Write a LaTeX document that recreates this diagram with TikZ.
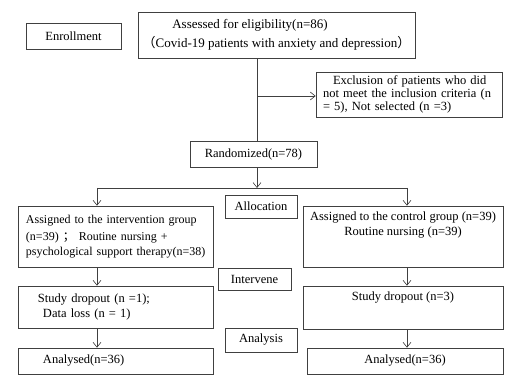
\documentclass[tikz,border=0pt]{standalone}
\usepackage{fontspec}
\setmainfont{Liberation Serif}
\newfontfamily\cjk{Noto Sans CJK SC}
\usetikzlibrary{arrows.meta,positioning}

\begin{document}
\begin{tikzpicture}[
    x=1pt,y=-1pt,
    box/.style={rectangle,draw=black!75,line width=0.6pt,inner sep=0pt,align=center,
                font=\fontsize{12.5}{15}\selectfont},
    arrow/.style={-{Straight Barb[length=5pt,width=8pt]},line width=0.6pt,draw=black!75},
    link/.style={line width=0.6pt,draw=black!75}
]
\useasboundingbox (0,0) rectangle (507,385);

%--- Nodes: Enrollment ---%
\node[box,minimum width=95pt,minimum height=26pt] (enrol) at (73.5,36) {Enrollment};
\node[box,minimum width=277pt,minimum height=46pt,font=\fontsize{13}{15}\selectfont] (assess) at (276.5,35)
    {\hspace*{-53pt}Assessed for eligibility(n=86)\\[4pt]
     {\cjk （}Covid-19 patients with anxiety and depression{\cjk ）}};
\node[box,minimum width=186pt,minimum height=45pt,text width=172pt,align=left,
      font=\fontsize{12.5}{13}\selectfont] (excl) at (409,94.5)
    {\makebox[172pt][s]{\hspace*{10pt}Exclusion of patients who did}\\
     \makebox[172pt][s]{not meet the inclusion criteria (n}\\
     = 5), Not selected (n =3)};
\node[box,minimum width=127pt,minimum height=26pt] (rand) at (253.5,154) {Randomized(n=78)};

%--- Nodes: Allocation ---%
\node[box,minimum width=72pt,minimum height=23pt] (alloc) at (261,206.5) {Allocation};
\node[box,minimum width=195pt,minimum height=61pt,text width=179pt,align=left,
      font=\fontsize{12}{15}\selectfont] (interv) at (115.5,236.5)
    {\makebox[179pt][s]{Assigned to the intervention group}\\[2.5pt]
     \makebox[179pt][s]{(n=39) {\cjk ；} Routine nursing +}\\
     \makebox[179pt][s]{psychological support therapy(n=38)}};
\node[box,minimum width=200pt,minimum height=61pt] (control) at (403,236.5)
    {Assigned to the control group (n=39)\\Routine nursing (n=39)\\[7pt]\strut};

%--- Nodes: Intervene ---%
\node[box,minimum width=73pt,minimum height=22pt] (inter) at (254.5,279) {Intervene};
\node[box,minimum width=195pt,minimum height=42pt,text width=179pt,align=left] (dropL) at (115.5,307)
    {\hspace*{12pt}Study dropout (n =1);\\\hspace*{17pt}Data loss (n = 1)};
\node[box,minimum width=200pt,minimum height=43pt] (dropR) at (403,307.5)
    {Study dropout (n=3)\\[4pt]\strut};

%--- Nodes: Analysis ---%
\node[box,minimum width=72pt,minimum height=24pt] (analysis) at (261,340) {Analysis};
\node[box,minimum width=195pt,minimum height=26pt,text width=179pt,align=left] (doneL) at (115.5,361)
    {\hspace*{17pt}Analysed(n=36)};
\node[box,minimum width=196pt,minimum height=26pt] (doneR) at (405,361) {Analysed(n=36)};

%--- Connectors ---%
\coordinate (trunk) at (257,96);
\coordinate (fork) at (257,188);
\coordinate (forkL) at (97,188);
\coordinate (forkR) at (407,188);

\draw[link] (assess.south -| trunk) -- (rand.north -| trunk);
\draw[arrow] (trunk) -- (trunk -| excl.west);
\draw[arrow] (rand.south -| fork) -- (fork);
\draw[link] (forkL) -- (forkR);
\draw[arrow] (forkL) -- (forkL |- interv.north);
\draw[arrow] (forkR) -- (forkR |- control.north);

\draw[arrow] (interv.south -| forkL) -- (dropL.north -| forkL);
\draw[arrow] (dropL.south -| forkL) -- (doneL.north -| forkL);
\draw[arrow] (control.south -| forkR) -- (dropR.north -| forkR);
\draw[arrow] (dropR.south -| forkR) -- (doneR.north -| forkR);

\end{tikzpicture}
\end{document}
